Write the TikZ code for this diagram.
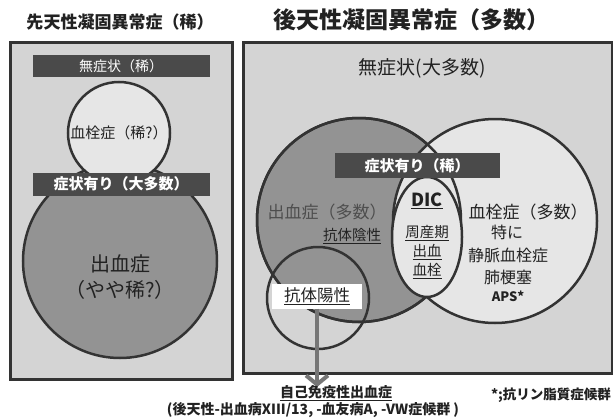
\documentclass[tikz,border=0pt]{standalone}
\usepackage{fontspec}
\setmainfont{Noto Sans CJK JP}
\usetikzlibrary{arrows.meta,shapes.geometric}
\definecolor{bgbox}{HTML}{D4D4D4}
\definecolor{lightc}{HTML}{E6E6E6}
\definecolor{midc}{HTML}{939393}
\definecolor{barc}{HTML}{4A4A4A}
\definecolor{edgec}{HTML}{333333}
\definecolor{arrowc}{HTML}{767676}
\definecolor{txtc}{HTML}{222222}
\definecolor{greytxt}{HTML}{4E4E4E}
\begin{document}
\begin{tikzpicture}[x=1pt,y=-1pt,
  outerbox/.style={draw=edgec, line width=3pt, fill=bgbox, inner sep=0pt, anchor=north west},
  darkbar/.style={fill=barc, text=white, inner sep=0pt, font=\bfseries},
  ring/.style={draw=edgec, line width=2.5pt, inner sep=0pt},
  lbl/.style={text=txtc, inner sep=0pt},
]
\useasboundingbox (0,0) rectangle (613,420);
\fill[white] (0,0) rectangle (613,420);

% ---------- left panel ----------
\node[lbl, font={\fontsize{17}{20}\selectfont\bfseries}] (ltitle) at (120,22) {先天性凝固異常症（稀）};
\node[outerbox, minimum width=222pt, minimum height=337pt] (lbox) at (9,41) {};
\node[circle, ring, fill=midc, minimum size=194pt] (lbig) at (120,261) {};
\node[lbl, align=center, font={\fontsize{20}{26}\selectfont}] (lbigtxt) at (120,277) {出血症\\（やや稀?）};
\node[circle, ring, fill=lightc, minimum size=102pt, lbl, font={\fontsize{15}{18}\selectfont}] (lsmall) at (119,133) {血栓症（稀?）};
\node[darkbar, minimum width=177pt, minimum height=22pt, font={\fontsize{14}{16}\selectfont}] (lbar1) at (121,66) {無症状（稀）};
\node[darkbar, minimum width=177pt, minimum height=23pt, font={\fontsize{15}{18}\selectfont\bfseries}] (lbar2) at (121,184) {症状有り（大多数）};

% ---------- right panel ----------
\node[lbl, font={\fontsize{23}{26}\selectfont\bfseries}] (rtitle) at (411,20) {後天性凝固異常症（多数）};
\node[outerbox, minimum width=369pt, minimum height=331pt] (rbox) at (242,41) {};
\node[lbl, font={\fontsize{19}{22}\selectfont}] (rnone) at (422,68) {無症状(大多数)};

\node[circle, ring, fill=midc, minimum size=204pt] (lvenn) at (359,220) {};
\node[circle, ring, fill=lightc, minimum size=204pt] (rvenn) at (495,221) {};
\node[circle, ring, minimum size=204pt] (lvennrim) at (lvenn.center) {};
\node[ellipse, ring, fill=lightc, minimum width=70pt, minimum height=120pt] (dic) at (427,237) {};
\node[darkbar, minimum width=165pt, minimum height=25pt, font={\fontsize{15}{18}\selectfont\bfseries}] (rbar) at (417,165.5) {症状有り（稀）};

\node[text=greytxt, inner sep=0pt, font={\fontsize{17}{20}\selectfont}] (bleed) at (327,212) {出血症（多数）};
\node[lbl, font={\fontsize{14.5}{17}\selectfont}] (abneg) at (352,236) {\underline{抗体陰性}};

\node[lbl, font={\fontsize{18}{21}\selectfont\bfseries}] (dictxt) at (427,201) {\underline{DIC}};
\node[lbl, font={\fontsize{14.5}{17}\selectfont}] (dic1) at (427,233) {\underline{周産期}};
\node[lbl, font={\fontsize{14.5}{17}\selectfont}] (dic2) at (427,252) {\underline{出血}};
\node[lbl, font={\fontsize{14.5}{17}\selectfont}] (dic3) at (427,271) {\underline{血栓}};

\node[lbl, font={\fontsize{17}{20}\selectfont}] (thromb) at (528,212) {血栓症（多数）};
\node[lbl, font={\fontsize{16}{19}\selectfont}] (th1) at (507,232) {特に};
\node[lbl, font={\fontsize{16}{19}\selectfont}] (th2) at (508,255) {静脈血栓症};
\node[lbl, font={\fontsize{16}{19}\selectfont}] (th3) at (508,277) {肺梗塞};
\node[lbl, font={\fontsize{13}{16}\selectfont\bfseries}] (th4) at (508,296) {APS*};

\node[circle, ring, minimum size=102pt] (abpos) at (318,298) {};
\node[fill=white, inner sep=0pt, minimum width=90pt, minimum height=25pt, text=txtc, font={\fontsize{16.5}{19}\selectfont}] (ablabel) at (317,296) {\underline{抗体陽性}};
\coordinate (atip) at (317,387);
\draw[arrowc, line width=4pt, -{Straight Barb[length=9pt, width=22pt]}] (ablabel.south) -- (atip);

% ---------- bottom texts ----------
\node[lbl, font={\fontsize{14}{17}\selectfont\bfseries}] (autoimm) at (336,393) {\underline{自己免疫性出血症}};
\node[lbl, font={\fontsize{14}{17}\selectfont\bfseries}] (acq) at (313,410) {(後天性-出血病XIII/13, -血友病A, -VW症候群 )};
\node[lbl, font={\fontsize{13.5}{16}\selectfont\bfseries}] (aps) at (551,395) {*;抗リン脂質症候群};
\end{tikzpicture}
\end{document}
